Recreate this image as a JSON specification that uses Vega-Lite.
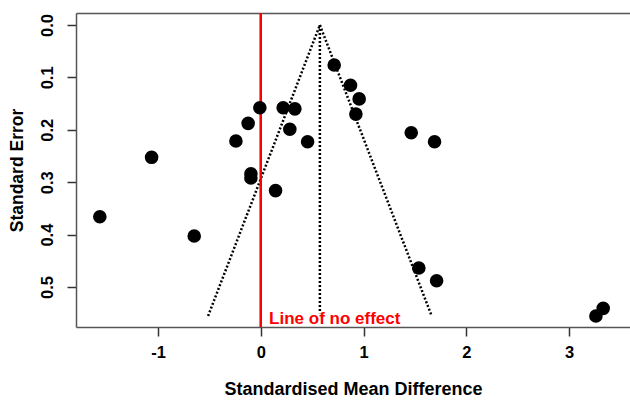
{
  "$schema": "https://vega.github.io/schema/vega-lite/v6.json",
  "width": 554,
  "height": 314,
  "autosize": {"type": "none"},
  "padding": {"left": 76, "top": 13, "right": 0, "bottom": 74},
  "config": {
    "view": {"stroke": null},
    "font": "Liberation Sans",
    "axis": {
      "grid": false,
      "domainColor": "#555",
      "tickColor": "#333",
      "domainWidth": 1.5,
      "tickWidth": 1.5,
      "labelFont": "Liberation Sans",
      "labelFontWeight": "bold",
      "labelFontSize": 16.5,
      "labelColor": "#000",
      "titleFont": "Liberation Sans",
      "titleFontWeight": "bold",
      "titleFontSize": 18,
      "titleColor": "#000"
    }
  },
  "datasets": {
    "studies": [
      {"smd": -1.568, "se": 0.366},
      {"smd": -1.064, "se": 0.2525},
      {"smd": -0.649, "se": 0.4027},
      {"smd": -0.243, "se": 0.2214},
      {"smd": -0.124, "se": 0.1877},
      {"smd": -0.01, "se": 0.158},
      {"smd": -0.097, "se": 0.284},
      {"smd": -0.097, "se": 0.292},
      {"smd": 0.143, "se": 0.316},
      {"smd": 0.217, "se": 0.158},
      {"smd": 0.331, "se": 0.16},
      {"smd": 0.282, "se": 0.199},
      {"smd": 0.455, "se": 0.2227},
      {"smd": 0.714, "se": 0.0763},
      {"smd": 0.873, "se": 0.115},
      {"smd": 0.957, "se": 0.141},
      {"smd": 0.925, "se": 0.17},
      {"smd": 1.464, "se": 0.2055},
      {"smd": 1.691, "se": 0.2227},
      {"smd": 1.538, "se": 0.4637},
      {"smd": 1.711, "se": 0.488},
      {"smd": 3.262, "se": 0.5553},
      {"smd": 3.333, "se": 0.5407}
    ],
    "funnel": [
      {"line": "left", "smd": 0.5745, "se": 0},
      {"line": "left", "smd": -0.514, "se": 0.5553},
      {"line": "right", "smd": 0.5745, "se": 0},
      {"line": "right", "smd": 1.663, "se": 0.5553},
      {"line": "centre", "smd": 0.5745, "se": 0},
      {"line": "centre", "smd": 0.5745, "se": 0.55}
    ],
    "note": [
      {"smd": 0.08, "se": 0.561, "label": "Line of no effect"}
    ]
  },
  "resolve": {"axis": {"x": "independent"}},
  "layer": [
    {
      "data": {"name": "funnel"},
      "mark": {"type": "line", "color": "#000", "strokeWidth": 2.5, "strokeDash": [2, 2]},
      "encoding": {
        "x": {"field": "smd", "type": "quantitative",
              "scale": {"domain": [-1.8, 3.594], "nice": false, "zero": false},
              "axis": {"orient": "top", "labels": false, "ticks": false, "title": null, "domain": true}},
        "y": {"field": "se", "type": "quantitative",
              "scale": {"domain": [-0.0229, 0.5763], "reverse": true, "nice": false, "zero": false},
              "axis": {"orient": "left", "values": [0, 0.1, 0.2, 0.3, 0.4, 0.5], "labelExpr": "format(datum.value, '.1f')",
                       "labelAngle": -90, "labelAlign": "center", "labelBaseline": "bottom",
                       "tickSize": 9, "labelPadding": 12, "title": "Standard Error", "titleFontSize": 17.5, "titlePadding": 13}},
        "detail": {"field": "line"}
      }
    },
    {
      "data": {"name": "funnel"},
      "mark": {"type": "rule", "color": "#ff0000", "strokeWidth": 2},
      "encoding": {
        "x": {"datum": 0, "type": "quantitative", "axis": null}
      }
    },
    {
      "data": {"name": "studies"},
      "mark": {"type": "circle", "color": "#000", "opacity": 1, "size": 185},
      "encoding": {
        "x": {"field": "smd", "type": "quantitative",
              "scale": {"domain": [-1.8, 3.594], "nice": false, "zero": false},
              "axis": {"orient": "bottom", "values": [-1, 0, 1, 2, 3], "labelExpr": "'' + datum.value",
                       "tickSize": 9, "labelPadding": 8, "title": "Standardised Mean Difference", "titlePadding": 20}},
        "y": {"field": "se", "type": "quantitative",
              "scale": {"domain": [-0.0229, 0.5763], "reverse": true, "nice": false, "zero": false},
              "axis": {"orient": "left", "values": [0, 0.1, 0.2, 0.3, 0.4, 0.5], "labelExpr": "format(datum.value, '.1f')",
                       "labelAngle": -90, "labelAlign": "center", "labelBaseline": "bottom",
                       "tickSize": 9, "labelPadding": 12, "title": "Standard Error", "titleFontSize": 17.5, "titlePadding": 13}}
      }
    },
    {
      "data": {"name": "note"},
      "mark": {"type": "text", "color": "#ff0000", "fontWeight": "bold", "fontSize": 17, "font": "Liberation Sans", "align": "left", "baseline": "middle"},
      "encoding": {
        "x": {"field": "smd", "type": "quantitative", "axis": null},
        "y": {"field": "se", "type": "quantitative",
              "axis": {"orient": "left", "values": [0, 0.1, 0.2, 0.3, 0.4, 0.5], "labelExpr": "format(datum.value, '.1f')",
                       "labelAngle": -90, "labelAlign": "center", "labelBaseline": "bottom",
                       "tickSize": 9, "labelPadding": 12, "title": "Standard Error", "titleFontSize": 17.5, "titlePadding": 13}},
        "text": {"field": "label"}
      }
    }
  ]
}
